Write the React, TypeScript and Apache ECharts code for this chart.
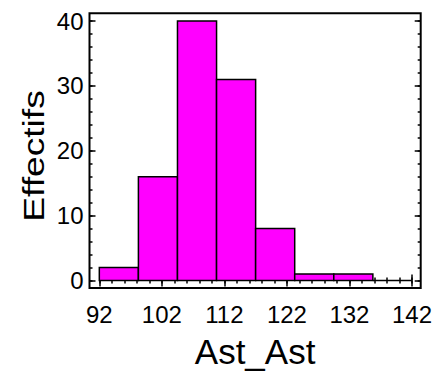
import React, { useEffect, useRef } from "react";
import * as echarts from "echarts";

const binEdges = [92, 98.25, 104.5, 110.75, 117, 123.25, 129.5, 135.75, 142];
const counts = [2, 16, 40, 31, 8, 1, 1, 0];
const xTickLabels = [92, 102, 112, 122, 132, 142];
const xMinorTicks = [92, 94, 96, 98, 100, 102, 104, 106, 108, 110, 112, 114, 116, 118, 120, 122, 124, 126, 128, 130, 132, 134, 136, 138, 140, 142];
const yTickLabels = [0, 10, 20, 30, 40];
const yMinorTicks = [0, 2, 4, 6, 8, 10, 12, 14, 16, 18, 20, 22, 24, 26, 28, 30, 32, 34, 36, 38, 40];
const xTitle = "Ast_Ast";
const yTitle = "Effectifs";

const FONT = "'Liberation Sans', Arial, sans-serif";
const X_MIN = 90.43;
const X_MAX = 143.4;
const Y_MIN = -1.17;
const Y_MAX = 41.2;

export default function App() {
  const ref = useRef<HTMLDivElement>(null);
  useEffect(() => {
    if (!ref.current) return;
    const chart = echarts.init(ref.current, null, { renderer: "svg" });
    const data = counts.map((c, i) => [binEdges[i], binEdges[i + 1], c]);
    const tickLine = { color: "#000", width: 1.5 };
    const baseX = {
      type: "value" as const,
      min: X_MIN,
      max: X_MAX,
      splitLine: { show: false },
      axisLine: { show: false },
    };
    const baseY = {
      type: "value" as const,
      min: Y_MIN,
      max: Y_MAX,
      splitLine: { show: false },
      axisLine: { show: false },
    };
    chart.setOption({
      animation: false,
      backgroundColor: "#fff",
      grid: {
        left: 89.5,
        right: 14.3,
        top: 13.3,
        bottom: 81.3,
        show: true,
        borderColor: "#000",
        borderWidth: 2,
        backgroundColor: "transparent",
      },
      graphic: [
        {
          type: "text",
          x: 33,
          y: 156,
          rotation: Math.PI / 2,
          scaleX: 1.24,
          style: {
            text: yTitle,
            fontSize: 30,
            fontFamily: FONT,
            fill: "#000",
            textAlign: "center",
            textVerticalAlign: "middle",
          },
        },
      ],
      xAxis: [
        {
          ...baseX,
          position: "bottom",
          axisTick: { inside: true, length: 6, customValues: xTickLabels, lineStyle: tickLine },
          axisLabel: {
            customValues: xTickLabels,
            fontSize: 24,
            color: "#000",
            fontFamily: FONT,
            margin: 14,
          },
          name: xTitle,
          nameLocation: "middle",
          nameGap: 46,
          nameTextStyle: { fontSize: 35, color: "#000", fontFamily: FONT },
        },
        {
          ...baseX,
          position: "top",
          axisTick: { inside: true, length: 6, customValues: xTickLabels, lineStyle: tickLine },
          axisLabel: { show: false },
        },
        {
          ...baseX,
          position: "bottom",
          axisTick: { inside: true, length: 3, customValues: xMinorTicks, lineStyle: tickLine },
          axisLabel: { show: false },
        },
        {
          ...baseX,
          position: "top",
          axisTick: { inside: true, length: 3, customValues: xMinorTicks, lineStyle: tickLine },
          axisLabel: { show: false },
        },
      ],
      yAxis: [
        {
          ...baseY,
          position: "left",
          axisTick: { inside: true, length: 6, customValues: yTickLabels, lineStyle: tickLine },
          axisLabel: {
            customValues: yTickLabels,
            fontSize: 24,
            color: "#000",
            fontFamily: FONT,
            margin: 6,
          },
        },
        {
          ...baseY,
          position: "right",
          axisTick: { inside: true, length: 6, customValues: yTickLabels, lineStyle: tickLine },
          axisLabel: { show: false },
        },
        {
          ...baseY,
          position: "left",
          axisTick: { inside: true, length: 3, customValues: yMinorTicks, lineStyle: tickLine },
          axisLabel: { show: false },
        },
        {
          ...baseY,
          position: "right",
          axisTick: { inside: true, length: 3, customValues: yMinorTicks, lineStyle: tickLine },
          axisLabel: { show: false },
        },
      ],
      series: [
        {
          type: "custom",
          xAxisIndex: 0,
          yAxisIndex: 0,
          data,
          encode: { x: [0, 1], y: 2 },
          renderItem: (params: any, api: any) => {
            const p0 = api.coord([api.value(0), api.value(2)]);
            const p1 = api.coord([api.value(1), 0]);
            return {
              type: "rect",
              shape: { x: p0[0], y: p0[1], width: p1[0] - p0[0], height: p1[1] - p0[1] },
              style: { fill: "#ff00ff", stroke: "#000", lineWidth: 1.5 },
            };
          },
        },
      ],
    });
    return () => chart.dispose();
  }, []);
  return (
    <div
      ref={ref}
      style={{ position: "fixed", left: 0, top: 0, width: 435, height: 374, background: "#fff" }}
    />
  );
}
